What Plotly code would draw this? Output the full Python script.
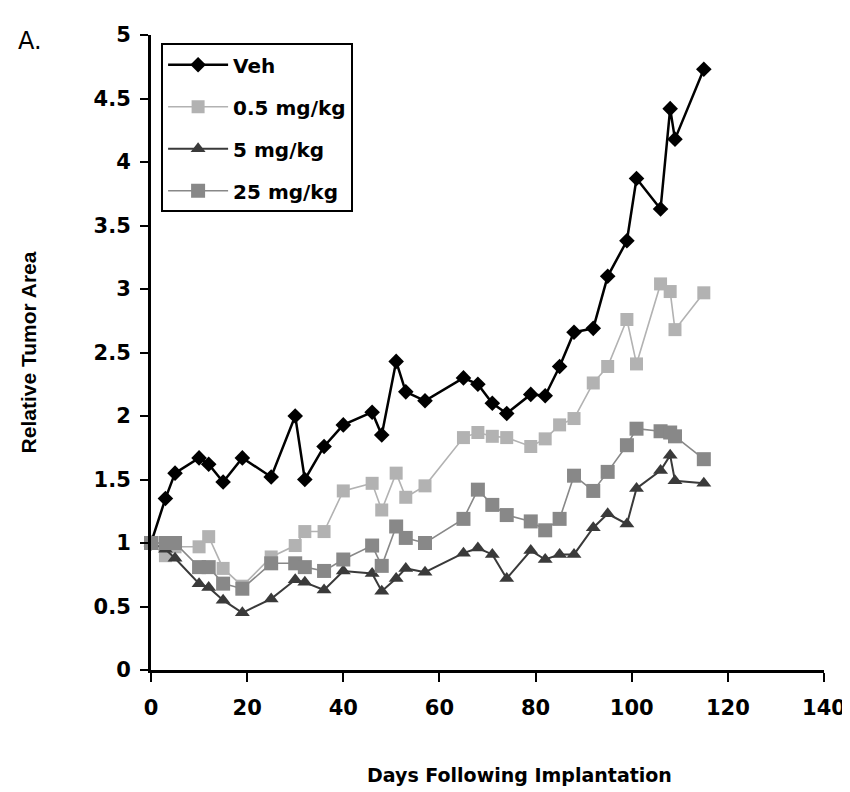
import plotly.graph_objects as go

days = [0, 3, 5, 10, 12, 15, 19, 25, 30, 32, 36, 40, 46, 48, 51, 53, 57, 65, 68, 71,
        74, 79, 82, 85, 88, 92, 95, 99, 101, 106, 108, 109, 115]

veh = [1.0, 1.35, 1.55, 1.67, 1.62, 1.48, 1.67, 1.52, 2.0, 1.5, 1.76, 1.93, 2.03, 1.85,
       2.43, 2.19, 2.12, 2.3, 2.25, 2.1, 2.02, 2.17, 2.16, 2.39, 2.66, 2.69, 3.1, 3.38,
       3.87, 3.63, 4.42, 4.18, 4.73]

mg05 = [1.0, 0.9, 0.97, 0.97, 1.05, 0.8, 0.66, 0.89, 0.98, 1.09, 1.09, 1.41, 1.47, 1.26,
        1.55, 1.36, 1.45, 1.83, 1.87, 1.84, 1.83, 1.76, 1.82, 1.93, 1.98, 2.26, 2.39, 2.76,
        2.41, 3.04, 2.98, 2.68, 2.97]

mg5 = [1.0, 0.95, 0.88, 0.68, 0.65, 0.55, 0.45, 0.56, 0.71, 0.69, 0.63, 0.78, 0.76, 0.62,
       0.72, 0.8, 0.77, 0.92, 0.96, 0.91, 0.72, 0.94, 0.87, 0.91, 0.91, 1.12, 1.23, 1.15,
       1.43, 1.57, 1.69, 1.49, 1.47]

mg25 = [1.0, 1.0, 1.0, 0.81, 0.81, 0.68, 0.64, 0.84, 0.84, 0.81, 0.78, 0.87, 0.98, 0.82,
        1.13, 1.04, 1.0, 1.19, 1.42, 1.3, 1.22, 1.17, 1.1, 1.19, 1.53, 1.41, 1.56, 1.77,
        1.9, 1.88, 1.87, 1.84, 1.66]

series_names = ["Veh", "0.5 mg/kg", "5 mg/kg", "25 mg/kg"]
x_ticks = [0, 20, 40, 60, 80, 100, 120, 140]
y_ticks = [0, 0.5, 1, 1.5, 2, 2.5, 3, 3.5, 4, 4.5, 5]

WIDE = "DejaVu Sans, Verdana, sans-serif"
NARROW = "Liberation Sans, Arial, sans-serif"

styles = [
    dict(line=dict(color="#000000", width=2.5),
         marker=dict(symbol="diamond", size=12, color="#000000")),
    dict(line=dict(color="#b2b2b2", width=1.6),
         marker=dict(symbol="square", size=13, color="#b2b2b2")),
    dict(line=dict(color="#3a3a3a", width=2),
         marker=dict(symbol="triangle-up", size=13, color="#3a3a3a")),
    dict(line=dict(color="#888888", width=1.6),
         marker=dict(symbol="square", size=14, color="#888888")),
]

fig = go.Figure()
for name, ys, st in zip(series_names, [veh, mg05, mg5, mg25], styles):
    fig.add_trace(go.Scatter(
        x=days, y=ys, name=name, mode="lines+markers",
        line=st["line"], marker=st["marker"], cliponaxis=False,
        legendgroup=name,
    ))

fig.update_layout(
    width=850, height=792,
    margin=dict(l=143, r=22, t=27, b=130),
    paper_bgcolor="white", plot_bgcolor="white",
    font=dict(family=WIDE, size=20, color="black", weight="bold"),
    showlegend=True,
    legend=dict(
        x=0.015, y=0.987, xanchor="left", yanchor="top",
        bgcolor="white", bordercolor="black", borderwidth=2,
        font=dict(family=WIDE, size=20, color="black", weight="bold"),
        itemwidth=60, tracegroupgap=13,
    ),
    xaxis=dict(
        range=[0, 140], tickvals=x_ticks, showgrid=False, zeroline=False,
        showline=True, linecolor="black", linewidth=3,
        ticks="outside", ticklen=9, tickwidth=2, tickcolor="black",
        ticklabelstandoff=8, ticklabeloverflow="allow",
        tickfont=dict(family=WIDE, size=21, weight="bold"),
    ),
    yaxis=dict(
        range=[0, 5], tickvals=y_ticks, showgrid=False, zeroline=False,
        showline=True, linecolor="black", linewidth=3,
        ticks="outside", ticklen=8, tickwidth=2, tickcolor="black",
        ticklabelstandoff=5,
        tickfont=dict(family=WIDE, size=21, weight="bold"),
        title=dict(text="Relative Tumor Area", standoff=52,
                   font=dict(family=NARROW, size=21, weight="bold")),
    ),
    annotations=[
        dict(text="A.", xref="paper", yref="paper", x=-0.2, y=0.99,
             xanchor="left", yanchor="middle", showarrow=False,
             font=dict(family=WIDE, size=24, weight="normal")),
        dict(text="Days Following Implantation", xref="paper", yref="paper",
             x=0.547, y=-0.165, xanchor="center", yanchor="middle", showarrow=False,
             font=dict(family=WIDE, size=19, weight="bold")),
    ],
)

fig.write_html("out.html")
